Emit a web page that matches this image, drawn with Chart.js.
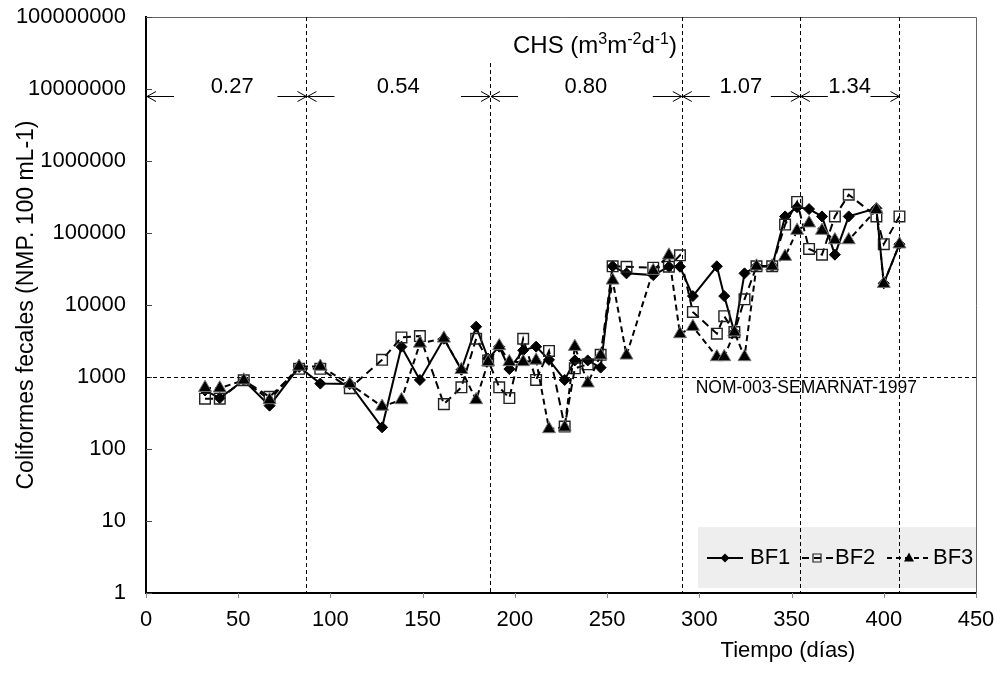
<!DOCTYPE html>
<html>
<head>
<meta charset="utf-8">
<script src="https://cdn.jsdelivr.net/npm/chart.js@4.4.0/dist/chart.umd.min.js"></script>
<style>
  body { margin: 0; background: #fff; }
  #contenedor { width: 1000px; height: 673px; }
</style>
</head>
<body>
<div id="contenedor"><canvas id="chartColiformes" width="1000" height="673"></canvas></div>
<script>
// dias de muestreo (eje x)
var dias = [32, 40, 53, 67, 83, 94.5, 110.5, 128, 138.5, 148.5, 161.5, 171, 179, 185.5, 191.5, 197, 204.5, 211.5, 218.5, 227, 232.5, 239.5, 246.5, 253, 260.5, 275, 283.5, 289.5, 296.5, 309.5, 313.5, 319, 324.5, 331, 339.5, 346.5, 353, 359.5, 366.5, 373.5, 381, 396, 400, 408.5];

// coliformes fecales (NMP/100 mL) por biofiltro
var bf1 = [650, 510, 900, 400, 1380, 810, 800, 200, 2640, 910, 3400, 1260, 5000, 1800, 2640, 1290, 2350, 2640, 1730, 910, 1700, 1700, 1350, 34500, 27500, 26000, 34000, 34000, 13300, 34500, 13300, 4200, 27500, 34500, 34500, 170000, 228000, 215000, 170000, 50000, 170000, 220000, 20000, 70000];
var bf2 = [500, 500, 900, 530, 1300, 1300, 700, 1730, 3550, 3700, 420, 720, 3400, 1700, 720, 510, 3400, 910, 2300, 205, 1320, 1500, 2030, 34500, 34000, 33000, 34000, 49000, 8000, 4000, 7000, 4200, 12000, 34500, 34500, 131000, 270000, 60000, 50000, 170000, 340000, 170000, 70000, 170000];
var bf3 = [710, 700, 900, 480, 1400, 1400, 800, 390, 480, 2930, 3440, 1260, 480, 1620, 2700, 1620, 1620, 1700, 190, 200, 2640, 820, 2000, 22000, 2000, 30000, 49000, 3960, 5000, 1900, 1900, 4200, 1900, 34500, 34500, 47000, 108000, 137000, 108000, 80000, 80000, 210000, 19800, 70000];

// limites de cada periodo de carga hidraulica (dias) y su valor
var periodos = [0, 87, 186.5, 290.5, 354.5, 408.5];
var cargas = ['0.27', '0.54', '0.80', '1.07', '1.34'];
var limiteNOM = 1000;
var textoNOM = 'NOM-003-SEMARNAT-1997';

// etiquetas de los ejes
var ticksY = [1, 10, 100, 1000, 10000, 100000, 1000000, 10000000, 100000000];
var ticksX = [0, 50, 100, 150, 200, 250, 300, 350, 400, 450];

var fuente = '"Liberation Sans", Arial, sans-serif';

function armarPuntos(valores) {
  var puntos = [];
  for (var i = 0; i < dias.length; i++) {
    puntos.push({ x: dias[i], y: valores[i] });
  }
  return puntos;
}

// marcadores a mano para la leyenda
function marcador(ctx, tipo, x, y) {
  ctx.save();
  ctx.beginPath();
  if (tipo == 'rombo') {
    ctx.moveTo(x - 4.5, y); ctx.lineTo(x, y - 4.5); ctx.lineTo(x + 4.5, y); ctx.lineTo(x, y + 4.5);
    ctx.closePath();
    ctx.fillStyle = '#000'; ctx.fill();
  } else if (tipo == 'cuadro') {
    ctx.rect(x - 4, y - 4, 8, 8);
    ctx.strokeStyle = '#222'; ctx.lineWidth = 1.2; ctx.setLineDash([]); ctx.stroke();
  } else {
    ctx.moveTo(x, y - 5.5); ctx.lineTo(x + 5, y + 3.5); ctx.lineTo(x - 5, y + 3.5);
    ctx.closePath();
    ctx.fillStyle = '#000'; ctx.fill();
  }
  ctx.restore();
}

function flecha(ctx, x1, x2, yy) {
  var d = x2 > x1 ? -1 : 1;
  ctx.beginPath();
  ctx.moveTo(x1, yy); ctx.lineTo(x2, yy);
  ctx.moveTo(x2 + d * 9, yy - 5); ctx.lineTo(x2, yy); ctx.lineTo(x2 + d * 9, yy + 5);
  ctx.stroke();
}

var anotaciones = {
  id: 'anotaciones',
  beforeDatasetsDraw: function (chart) {
    var ctx = chart.ctx, area = chart.chartArea;
    var ex = chart.scales.x, ey = chart.scales.y;
    ctx.save();

    // marco superior y derecho
    ctx.strokeStyle = '#666'; ctx.lineWidth = 1;
    ctx.beginPath();
    ctx.moveTo(area.left, area.top + 0.5); ctx.lineTo(area.right + 0.5, area.top + 0.5);
    ctx.lineTo(area.right + 0.5, area.bottom);
    ctx.stroke();

    // fondo de la leyenda
    ctx.fillStyle = '#eeeeee';
    ctx.fillRect(area.right - 278, area.bottom - 66, 278, 61);

    // marcas de los ejes
    ctx.strokeStyle = '#444'; ctx.lineWidth = 1;
    ticksY.forEach(function (v) {
      var py = Math.round(ey.getPixelForValue(v)) + 0.5;
      ctx.beginPath(); ctx.moveTo(area.left, py); ctx.lineTo(area.left + 6, py); ctx.stroke();
    });
    ctx.strokeStyle = '#888';
    ticksX.forEach(function (v) {
      var px = Math.round(ex.getPixelForValue(v)) + 0.5;
      ctx.beginPath(); ctx.moveTo(px, area.bottom); ctx.lineTo(px, area.bottom + 5); ctx.stroke();
    });

    // linea de la norma
    ctx.strokeStyle = '#000'; ctx.lineWidth = 1; ctx.setLineDash([4, 3]);
    var yN = Math.round(ey.getPixelForValue(limiteNOM)) + 0.5;
    ctx.beginPath(); ctx.moveTo(area.left, yN); ctx.lineTo(area.right, yN); ctx.stroke();

    // lineas de cambio de carga
    for (var i = 1; i < periodos.length; i++) {
      var px = Math.round(ex.getPixelForValue(periodos[i])) + 0.5;
      var inicio = i == 2 ? area.top + 46 : area.top;
      ctx.beginPath(); ctx.moveTo(px, inicio); ctx.lineTo(px, area.bottom); ctx.stroke();
    }
    ctx.restore();
  },
  afterDraw: function (chart) {
    var ctx = chart.ctx, area = chart.chartArea;
    var ex = chart.scales.x, ey = chart.scales.y;
    ctx.save();
    ctx.fillStyle = '#000';
    ctx.strokeStyle = '#000';

    // titulo CHS con superindices
    var partes = [['CHS (m', false], ['3', true], ['m', false], ['-2', true], ['d', false], ['-1', true], [')', false]];
    var total = 0;
    partes.forEach(function (p) {
      ctx.font = (p[1] ? '16px ' : '24px ') + fuente;
      total += ctx.measureText(p[0]).width;
    });
    var cx = (area.left + area.right) / 2 + 34 - total / 2;
    ctx.textAlign = 'left'; ctx.textBaseline = 'alphabetic';
    partes.forEach(function (p) {
      ctx.font = (p[1] ? '16px ' : '24px ') + fuente;
      ctx.fillText(p[0], cx, area.top + (p[1] ? 27 : 36));
      cx += ctx.measureText(p[0]).width;
    });

    // flechas y valores de carga
    ctx.lineWidth = 1;
    ctx.font = '22px ' + fuente;
    ctx.textAlign = 'center';
    var yF = area.top + 79.5;
    for (var i = 0; i < cargas.length; i++) {
      var L = ex.getPixelForValue(periodos[i]);
      var R = ex.getPixelForValue(periodos[i + 1]);
      flecha(ctx, L + 28, L + 1, yF);
      flecha(ctx, R - 29, R, yF);
      ctx.fillText(cargas[i], (L + R) / 2 + (i == 0 ? 6 : 0), area.top + 76);
    }

    // texto de la norma
    ctx.font = '17.5px ' + fuente;
    ctx.textAlign = 'left';
    ctx.fillText(textoNOM, ex.getPixelForValue(298), ey.getPixelForValue(limiteNOM) + 15.5);

    // leyenda
    var lx = area.right - 278, ly = area.bottom - 35;
    ctx.lineWidth = 2;
    ctx.setLineDash([]);
    ctx.beginPath(); ctx.moveTo(lx + 9, ly); ctx.lineTo(lx + 45, ly); ctx.stroke();
    marcador(ctx, 'rombo', lx + 27, ly);
    ctx.setLineDash([7, 5]);
    ctx.beginPath(); ctx.moveTo(lx + 104, ly); ctx.lineTo(lx + 135, ly); ctx.stroke();
    marcador(ctx, 'cuadro', lx + 119, ly);
    ctx.setLineDash([5, 4]);
    ctx.beginPath(); ctx.moveTo(lx + 189, ly); ctx.lineTo(lx + 232, ly); ctx.stroke();
    marcador(ctx, 'triangulo', lx + 211, ly);
    ctx.setLineDash([]);
    ctx.font = '22px ' + fuente;
    ctx.textBaseline = 'middle';
    ctx.fillText('BF1', lx + 52, ly);
    ctx.fillText('BF2', lx + 137, ly);
    ctx.fillText('BF3', lx + 235, ly);

    // titulos de ejes
    ctx.textBaseline = 'alphabetic';
    ctx.textAlign = 'center';
    ctx.fillText('Tiempo (días)', 788, 657);
    ctx.translate(33, (area.top + area.bottom) / 2);
    ctx.rotate(-Math.PI / 2);
    ctx.font = '23px ' + fuente;
    ctx.fillText('Coliformes fecales (NMP. 100 mL-1)', 0, 0);
    ctx.restore();
  }
};

var dados = {
  datasets: [{
    label: 'BF1',
    data: armarPuntos(bf1),
    borderColor: '#000',
    borderWidth: 2,
    pointStyle: 'rectRot',
    pointRadius: 5.5,
    pointBackgroundColor: '#000',
    pointBorderColor: '#000',
    pointBorderWidth: 1,
    order: 2
  }, {
    label: 'BF2',
    data: armarPuntos(bf2),
    borderColor: '#000',
    borderWidth: 2,
    borderDash: [8, 5],
    pointStyle: 'rect',
    pointRadius: 7.5,
    pointBackgroundColor: 'rgba(0,0,0,0)',
    pointBorderColor: '#222',
    pointBorderWidth: 1.4,
    order: 1
  }, {
    label: 'BF3',
    data: armarPuntos(bf3),
    borderColor: '#000',
    borderWidth: 2,
    borderDash: [6, 4],
    pointStyle: 'triangle',
    pointRadius: 7.5,
    pointBackgroundColor: '#000',
    pointBorderColor: '#777',
    pointBorderWidth: 1,
    order: 0
  }]
};

var config = {
  type: 'line',
  data: dados,
  options: {
    responsive: false,
    animation: false,
    events: [],
    layout: { padding: 0 },
    elements: { line: { tension: 0, fill: false } },
    plugins: { legend: { display: false }, tooltip: { enabled: false } },
    scales: {
      x: {
        type: 'linear',
        min: 0, max: 450,
        grid: { display: false, drawTicks: false },
        border: { display: true, color: '#000', width: 2 },
        ticks: { stepSize: 50, color: '#000', padding: 14, font: { family: fuente, size: 22 } },
        afterFit: function (s) {
          s.height = 80;
          s.paddingLeft = 0;
          s.paddingRight = 24;
        }
      },
      y: {
        type: 'logarithmic',
        min: 1, max: 100000000,
        grid: { display: false, drawTicks: false },
        border: { display: true, color: '#000', width: 2 },
        ticks: {
          color: '#000', padding: 20, font: { family: fuente, size: 22 },
          autoSkip: false,
          callback: function (v) { return String(v); }
        },
        afterBuildTicks: function (s) { s.ticks = ticksY.map(function (v) { return { value: v }; }); },
        afterFit: function (s) {
          s.width = 146;
          s.paddingTop = 17;
          s.paddingBottom = 0;
        }
      }
    }
  },
  plugins: [anotaciones]
};

var chartColiformes = new Chart(document.getElementById('chartColiformes'), config);
</script>
</body>
</html>
